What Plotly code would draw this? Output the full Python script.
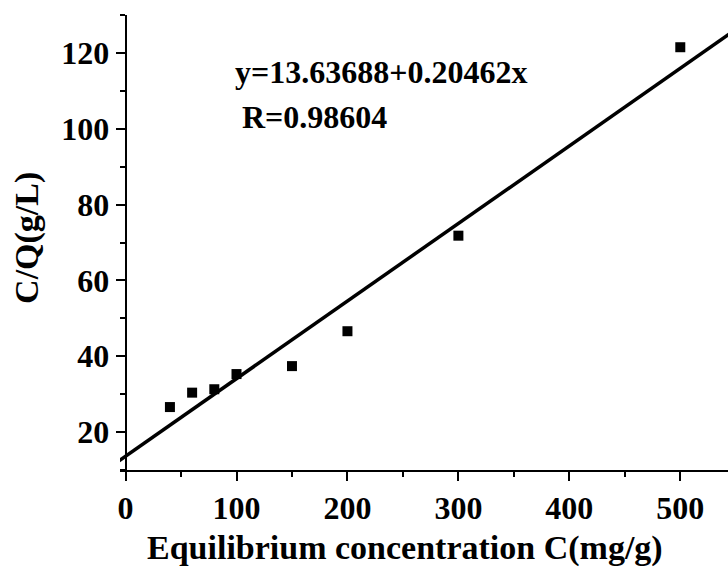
import plotly.graph_objects as go

# Langmuir isotherm data: equilibrium concentration vs C/Q
conc = [40, 60, 80, 100, 150, 200, 300, 500]
c_over_q = [26.6, 30.4, 31.3, 35.3, 37.4, 46.6, 71.8, 121.5]

# Linear fit parameters
intercept = 13.63688
slope = 0.20462
r_value = 0.98604
fit_x = [-6, 545]

x_range = [-5, 543]
y_range = [10, 130]

font_family = "Liberation Serif, Times New Roman, serif"

fig = go.Figure()

fig.add_trace(go.Scatter(
    x=fit_x,
    y=[intercept + slope * v for v in fit_x],
    mode="lines",
    line=dict(color="black", width=3.5),
    showlegend=False,
))

fig.add_trace(go.Scatter(
    x=conc,
    y=c_over_q,
    mode="markers",
    marker=dict(symbol="square", size=10, color="black"),
    showlegend=False,
))

fig.add_annotation(
    x=0.186, y=0.875, xref="paper", yref="paper",
    text="<b>y=13.63688+0.20462x</b>", showarrow=False,
    xanchor="left", yanchor="middle",
    font=dict(family=font_family, size=32, color="black"),
)
fig.add_annotation(
    x=0.197, y=0.776, xref="paper", yref="paper",
    text=f"<b>R={r_value}</b>", showarrow=False,
    xanchor="left", yanchor="middle",
    font=dict(family=font_family, size=32, color="black"),
)

# Axis titles
fig.add_annotation(
    x=0.469, y=-0.171, xref="paper", yref="paper",
    text="<b>Equilibrium concentration C(mg/g)</b>", showarrow=False,
    xanchor="center", yanchor="middle",
    font=dict(family=font_family, size=34, color="black"),
)
fig.add_annotation(
    x=-0.153, y=0.51, xref="paper", yref="paper",
    text="<b>C/Q(g/L)</b>", showarrow=False, textangle=-90,
    xanchor="center", yanchor="middle",
    font=dict(family=font_family, size=34, color="black"),
)

zero_pos = (0 - x_range[0]) / (x_range[1] - x_range[0])

fig.update_layout(
    width=728, height=567,
    margin=dict(l=120, r=0, t=15, b=97),
    paper_bgcolor="white", plot_bgcolor="white",
    font=dict(family=font_family, size=32, color="black"),
    xaxis=dict(
        range=x_range,
        tickvals=[0, 100, 200, 300, 400, 500],
        ticks="outside", ticklen=9, tickwidth=2, tickcolor="black",
        showline=True, linecolor="black", linewidth=2,
        showgrid=False, zeroline=False,
        minor=dict(ticks="outside", ticklen=5, tickwidth=2, tickcolor="black", dtick=50, tick0=0, showgrid=False),
        tickfont=dict(family=font_family, size=32, weight="bold"),
    ),
    yaxis=dict(
        range=y_range,
        anchor="free", position=zero_pos,
        tickvals=[20, 40, 60, 80, 100, 120],
        ticks="outside", ticklen=9, tickwidth=2, tickcolor="black",
        showline=True, linecolor="black", linewidth=2,
        showgrid=False, zeroline=False,
        minor=dict(ticks="outside", ticklen=5, tickwidth=2, tickcolor="black", dtick=10, tick0=10, showgrid=False),
        tickfont=dict(family=font_family, size=32, weight="bold"),
    ),
)

fig.write_html("out.html")
